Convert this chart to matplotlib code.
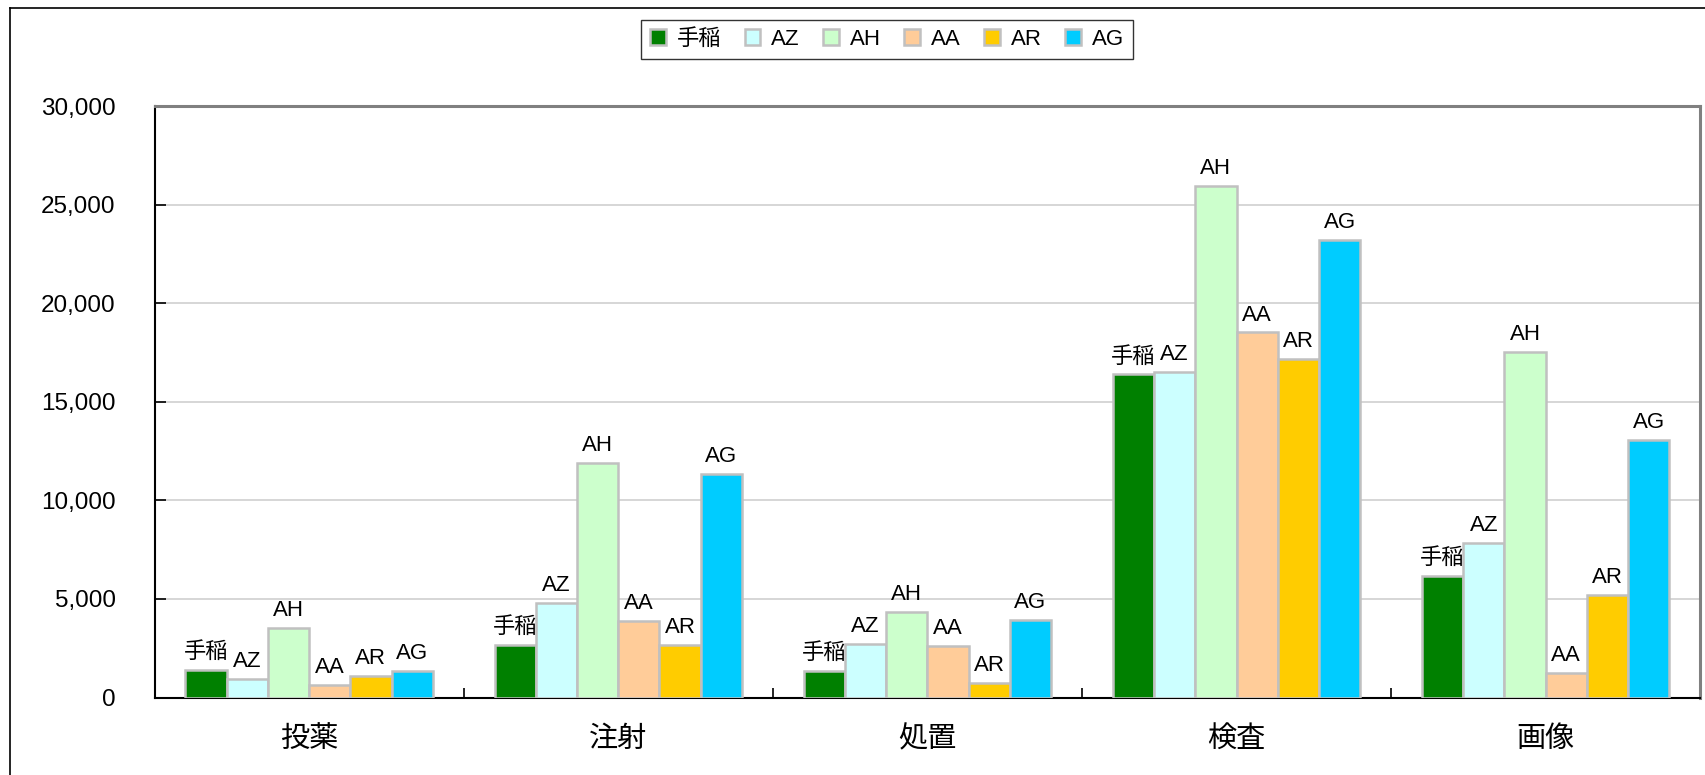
import matplotlib
matplotlib.use("Agg")
import matplotlib.pyplot as plt
import numpy as np
from matplotlib.lines import Line2D
from matplotlib.ticker import FuncFormatter

plt.rcParams["font.family"] = ["Liberation Sans", "Noto Sans CJK JP", "DejaVu Sans"]

# ---------------------------------------------------------
# data
# ---------------------------------------------------------
categories = ["投薬", "注射", "処置", "検査", "画像"]
series = ["手稲", "AZ", "AH", "AA", "AR", "AG"]

teine = [1420, 2650, 1330, 16400, 6150]
az = [950, 4780, 2700, 16520, 7830]
ah = [3550, 11900, 4360, 25980, 17530]
aa = [620, 3890, 2600, 18530, 1260]
ar = [1080, 2650, 720, 17180, 5190]
ag = [1330, 11350, 3920, 23220, 13060]

values = [teine, az, ah, aa, ar, ag]
colors = ["#008000", "#CCFFFF", "#CCFFCC", "#FFCC99", "#FFCC00", "#00CCFF"]

# ---------------------------------------------------------
# figure
# ---------------------------------------------------------
fig = plt.figure(figsize=(17.06, 7.75), dpi=100)
ax = fig.add_axes([0.0906, 0.1, 0.906, 0.7626])

x = np.arange(len(categories))
width = 0.8 / len(series)

for i, (name, vals, col) in enumerate(zip(series, values, colors)):
    pos = x - 0.4 + width * (i + 0.5)
    bars = ax.bar(pos, vals, width=width, color=col, edgecolor="#C0C0C0",
                  linewidth=1.8, label=name, zorder=3)
    for b in bars:
        ax.annotate(name, (b.get_x() + b.get_width() / 2, b.get_height()),
                    xytext=(0, 5), textcoords="offset points",
                    ha="center", va="bottom", fontsize=16, zorder=4)

ax.set_xlim(-0.5, len(categories) - 0.5)
ax.set_ylim(0, 30000)
ax.set_yticks(np.arange(0, 30001, 5000))
ax.yaxis.set_major_formatter(FuncFormatter(lambda v, p: f"{int(v):,}"))
ax.grid(axis="y", color="#D0D0D0", linewidth=1.2, zorder=0)

# category labels, ticks at the boundaries
ax.set_xticks(x)
ax.set_xticklabels(categories, fontsize=21)
ax.set_xticks(np.arange(0.5, len(categories) - 0.5, 1), minor=True)
ax.tick_params(axis="x", which="major", length=0, pad=20)
ax.tick_params(axis="x", which="minor", direction="in", length=7, width=1.2)
ax.tick_params(axis="y", direction="in", length=8, width=1.2, labelsize=17.5, pad=28)

for s in ["left", "bottom"]:
    ax.spines[s].set_color("#000000")
    ax.spines[s].set_linewidth(1.5)
for s in ["top", "right"]:
    ax.spines[s].set_color("#808080")
    ax.spines[s].set_linewidth(2.2)

leg = fig.legend(loc="center", bbox_to_anchor=(887 / 1706, 1 - 39.5 / 775),
                 ncol=6, fontsize=16, frameon=True, fancybox=False,
                 handlelength=0.7, handleheight=0.7, handletextpad=0.5,
                 columnspacing=1.05, borderpad=0.4)
leg.get_frame().set_edgecolor("#000000")
leg.get_frame().set_linewidth(1.0)

# outer chart border (only left and top visible in the crop)
fig.add_artist(Line2D([10 / 1706, 10 / 1706], [0, 1 - 8 / 775],
                      transform=fig.transFigure, color="#000000", linewidth=1.2))
fig.add_artist(Line2D([10 / 1706, 1], [1 - 8 / 775, 1 - 8 / 775],
                      transform=fig.transFigure, color="#000000", linewidth=1.2))

fig.savefig("out.png", dpi=100)
